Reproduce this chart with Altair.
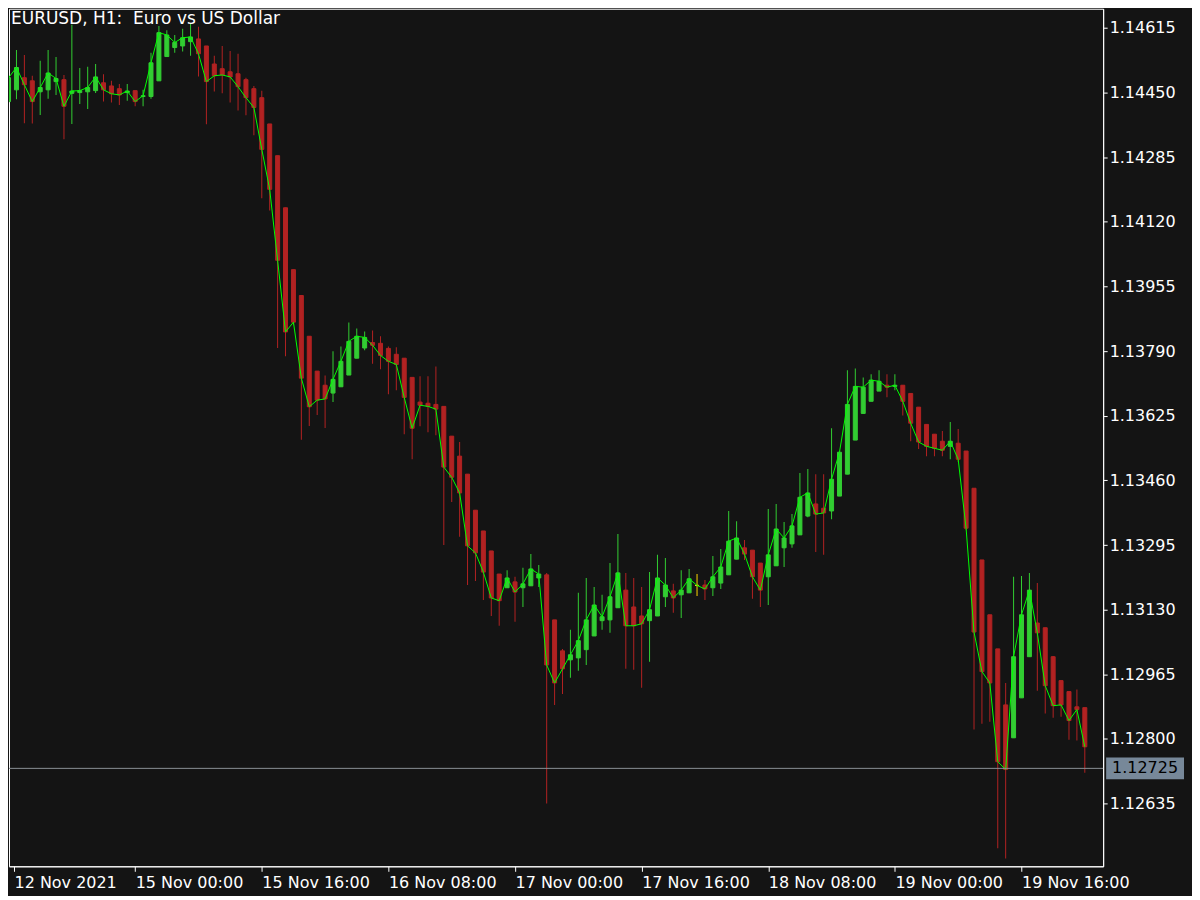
import altair as alt
import pandas as pd

opens = [1.14427, 1.14457, 1.14488, 1.14480, 1.14452, 1.14457, 1.14478, 1.14483, 1.14448, 1.14450,
         1.14452, 1.14455, 1.14475, 1.14467, 1.14460, 1.14450, 1.14455, 1.14440, 1.14440, 1.14480,
         1.14542, 1.14565, 1.14569, 1.14580, 1.14587, 1.14569, 1.14523, 1.14511, 1.14503, 1.14498,
         1.14483, 1.14460, 1.14437, 1.14370, 1.14289, 1.14156, 1.13998, 1.13932, 1.13828, 1.13739,
         1.13703, 1.13683, 1.13699, 1.13729, 1.13772, 1.13798, 1.13812, 1.13810, 1.13797, 1.13782,
         1.13772, 1.13723, 1.13660, 1.13657, 1.13654, 1.13649, 1.13573, 1.13522, 1.13476, 1.13384,
         1.13331, 1.13280, 1.13221, 1.13186, 1.13201, 1.13186, 1.13191, 1.13211, 1.13219, 1.13104,
         1.13025, 1.13002, 1.13007, 1.13028, 1.13063, 1.13102, 1.13104, 1.13135, 1.13180, 1.13137,
         1.13114, 1.13102, 1.13114, 1.13163, 1.13178, 1.13168, 1.13173, 1.13192, 1.13193, 1.13186,
         1.13198, 1.13219, 1.13259, 1.13288, 1.13282, 1.13249, 1.13214, 1.13242, 1.13288, 1.13298,
         1.13321, 1.13369, 1.13400, 1.13389, 1.13382, 1.13420, 1.13476, 1.13563, 1.13631, 1.13662,
         1.13688, 1.13703, 1.13700, 1.13703, 1.13682, 1.13647, 1.13603, 1.13578, 1.13560, 1.13547,
         1.13555, 1.13535, 1.13440, 1.13257, 1.13117, 1.13030, 1.12887, 1.12803, 1.12905, 1.13010,
         1.13096, 1.13084, 1.13010, 1.12949, 1.12921, 1.12882, 1.12880]

highs = [1.14501, 1.14559, 1.14546, 1.14493, 1.14531, 1.14559, 1.14541, 1.14495, 1.14623, 1.14513,
         1.14516, 1.14523, 1.14497, 1.14480, 1.14472, 1.14472, 1.14455, 1.14457, 1.14552, 1.14620,
         1.14609, 1.14597, 1.14613, 1.14627, 1.14618, 1.14569, 1.14544, 1.14569, 1.14556, 1.14549,
         1.14488, 1.14467, 1.14455, 1.14370, 1.14289, 1.14156, 1.13998, 1.13932, 1.13828, 1.13739,
         1.13728, 1.13790, 1.13802, 1.13863, 1.13848, 1.13840, 1.13843, 1.13828, 1.13802, 1.13800,
         1.13772, 1.13723, 1.13726, 1.13726, 1.13751, 1.13649, 1.13573, 1.13558, 1.13476, 1.13384,
         1.13331, 1.13280, 1.13221, 1.13231, 1.13214, 1.13237, 1.13272, 1.13244, 1.13224, 1.13104,
         1.13030, 1.13079, 1.13173, 1.13211, 1.13188, 1.13168, 1.13249, 1.13323, 1.13224, 1.13211,
         1.13188, 1.13226, 1.13270, 1.13262, 1.13196, 1.13231, 1.13234, 1.13221, 1.13206, 1.13267,
         1.13285, 1.13382, 1.13356, 1.13308, 1.13282, 1.13249, 1.13387, 1.13400, 1.13354, 1.13374,
         1.13479, 1.13489, 1.13476, 1.13476, 1.13593, 1.13532, 1.13741, 1.13746, 1.13723, 1.13731,
         1.13741, 1.13731, 1.13731, 1.13703, 1.13682, 1.13647, 1.13603, 1.13578, 1.13586, 1.13609,
         1.13591, 1.13535, 1.13440, 1.13257, 1.13117, 1.13030, 1.12943, 1.13214, 1.13216, 1.13224,
         1.13198, 1.13084, 1.13012, 1.12949, 1.12921, 1.12926, 1.12880]

lows = [1.14423, 1.14433, 1.14372, 1.14371, 1.14393, 1.14434, 1.14444, 1.14331, 1.14370, 1.14421,
        1.14408, 1.14449, 1.14427, 1.14425, 1.14418, 1.14429, 1.14415, 1.14415, 1.14434, 1.14480,
        1.14541, 1.14552, 1.14555, 1.14544, 1.14491, 1.14369, 1.14453, 1.14448, 1.14425, 1.14404,
        1.14392, 1.14341, 1.14180, 1.14149, 1.13798, 1.13777, 1.13856, 1.13564, 1.13599, 1.13627,
        1.13594, 1.13660, 1.13699, 1.13729, 1.13772, 1.13792, 1.13758, 1.13744, 1.13680, 1.13690,
        1.13578, 1.13514, 1.13598, 1.13583, 1.13575, 1.13295, 1.13405, 1.13316, 1.13193, 1.13203,
        1.13155, 1.13114, 1.13089, 1.13186, 1.13099, 1.13137, 1.13191, 1.13188, 1.12635, 1.12887,
        1.12915, 1.12956, 1.12974, 1.12989, 1.13063, 1.13079, 1.13071, 1.13135, 1.12979, 1.12977,
        1.12931, 1.12997, 1.13114, 1.13137, 1.13122, 1.13109, 1.13173, 1.13165, 1.13155, 1.13165,
        1.13183, 1.13219, 1.13259, 1.13257, 1.13158, 1.13137, 1.13142, 1.13242, 1.13239, 1.13288,
        1.13321, 1.13366, 1.13277, 1.13270, 1.13361, 1.13420, 1.13476, 1.13563, 1.13631, 1.13662,
        1.13688, 1.13672, 1.13690, 1.13626, 1.13560, 1.13540, 1.13522, 1.13522, 1.13522, 1.13514,
        1.13507, 1.13333, 1.12824, 1.12839, 1.12844, 1.12521, 1.12495, 1.12803, 1.12905, 1.13010,
        1.12923, 1.12865, 1.12854, 1.12857, 1.12798, 1.12796, 1.12714]

closes = [1.14488, 1.14514, 1.14470, 1.14427, 1.14463, 1.14500, 1.14486, 1.14415, 1.14454, 1.14455,
          1.14463, 1.14490, 1.14457, 1.14447, 1.14444, 1.14454, 1.14427, 1.14442, 1.14526, 1.14603,
          1.14597, 1.14578, 1.14590, 1.14592, 1.14549, 1.14478, 1.14493, 1.14495, 1.14490, 1.14465,
          1.14437, 1.14412, 1.14305, 1.14203, 1.14022, 1.13839, 1.13864, 1.13721, 1.13648, 1.13665,
          1.13668, 1.13718, 1.13764, 1.13815, 1.13828, 1.13825, 1.13805, 1.13779, 1.13764, 1.13756,
          1.13672, 1.13593, 1.13652, 1.13649, 1.13642, 1.13494, 1.13468, 1.13428, 1.13293, 1.13275,
          1.13226, 1.13160, 1.13153, 1.13211, 1.13175, 1.13196, 1.13234, 1.13221, 1.12989, 1.12943,
          1.12979, 1.13015, 1.13051, 1.13104, 1.13142, 1.13112, 1.13163, 1.13224, 1.13089, 1.13089,
          1.13094, 1.13130, 1.13211, 1.13193, 1.13160, 1.13180, 1.13209, 1.13192, 1.13183, 1.13214,
          1.13239, 1.13305, 1.13313, 1.13272, 1.13214, 1.13180, 1.13270, 1.13336, 1.13313, 1.13344,
          1.13417, 1.13428, 1.13374, 1.13377, 1.13463, 1.13532, 1.13654, 1.13700, 1.13698, 1.13716,
          1.13713, 1.13698, 1.13703, 1.13662, 1.13606, 1.13558, 1.13547, 1.13542, 1.13537, 1.13560,
          1.13514, 1.13338, 1.13073, 1.12972, 1.12943, 1.12742, 1.12722, 1.13010, 1.13117, 1.13180,
          1.13071, 1.12936, 1.12885, 1.12887, 1.12847, 1.12875, 1.12780]

time_ticks = [0.6875, 16, 32, 48, 64, 80, 96, 112, 128]
time_labels = ["12 Nov 2021", "15 Nov 00:00", "15 Nov 16:00", "16 Nov 08:00", "17 Nov 00:00",
               "17 Nov 16:00", "18 Nov 08:00", "19 Nov 00:00", "19 Nov 16:00"]
price_ticks = [1.12635, 1.12800, 1.12965, 1.13130, 1.13295, 1.13460, 1.13625,
               1.13790, 1.13955, 1.14120, 1.14285, 1.14450, 1.14615]
chart_title = "EURUSD, H1:\u00a0 Euro vs US Dollar"
last_price = 1.12725

FONT = "DejaVu Sans"
n = len(opens)
dirs = ["up" if c > o else ("down" if c < o else "doji") for o, c in zip(opens, closes)]
df = pd.DataFrame({"idx": list(range(n)), "open": opens, "high": highs, "low": lows,
                   "close": closes, "dir": dirs})

cscale = alt.Scale(domain=["up", "down", "doji"], range=["#32cd32", "#b22222", "#ffd700"])
xscale = alt.Scale(domain=[0.6875, 137.6875], nice=False, zero=False)
yscale = alt.Scale(domain=[1.12475, 1.14664], nice=False, zero=False)

label_expr = "''"
for t, lab in reversed(list(zip(time_ticks, time_labels))):
    label_expr = f"abs(datum.value - {t}) < 0.5 ? '{lab}' : ({label_expr})"

x_axis = alt.Axis(values=time_ticks, labelExpr=label_expr, orient="bottom", tickSize=5,
                  labelPadding=3, labelAlign="left", labelOverlap=False, labelFlush=False,
                  title=None)
y_axis = alt.Axis(orient="right", values=price_ticks, format=".5f", tickSize=4,
                  labelPadding=2, title=None, labelOverlap=False, labelFlush=False)

base = alt.Chart(df)
X = alt.X("idx:Q", scale=xscale, axis=x_axis)

wicks = base.mark_bar(width=1, clip=True).encode(
    x=X,
    y=alt.Y("low:Q", scale=yscale, axis=y_axis),
    y2="high:Q",
    color=alt.Color("dir:N", scale=cscale, legend=None),
)

bodies = base.mark_bar(width=4, strokeWidth=1, clip=True).encode(
    x=X,
    y=alt.Y("open:Q", scale=yscale, axis=y_axis),
    y2="close:Q",
    color=alt.Color("dir:N", scale=cscale, legend=None),
    stroke=alt.Stroke("dir:N", scale=cscale, legend=None),
)

close_line = base.mark_line(color="#00ff00", strokeWidth=1, clip=True).encode(
    x=X,
    y=alt.Y("close:Q", scale=yscale, axis=y_axis),
)

pdf = pd.DataFrame({"p": [last_price], "lab": [f"{last_price:.5f}"]})
price_rule = alt.Chart(pdf).mark_rule(color="#8a9096", strokeWidth=1).encode(
    y=alt.Y("p:Q", scale=yscale, axis=y_axis)
)
price_box = alt.Chart(pdf).mark_point(
    shape="M-1,-0.28L1,-0.28L1,0.28L-1,0.28Z", size=6084, filled=True,
    color="#778899", opacity=1, clip=False
).encode(y=alt.Y("p:Q", scale=yscale, axis=y_axis), x=alt.value(1138))
price_text = alt.Chart(pdf).mark_text(
    color="#000000", font=FONT, fontSize=16, align="center", baseline="middle", clip=False
).encode(y=alt.Y("p:Q", scale=yscale, axis=y_axis), x=alt.value(1138), text="lab:N")

title_text = alt.Chart(pd.DataFrame({"t": [chart_title]})).mark_text(
    align="left", baseline="alphabetic", color="white", font=FONT, fontSize=17
).encode(x=alt.value(2), y=alt.value(15), text="t:N")

chart = alt.layer(
    wicks, bodies, close_line, price_rule, price_box, price_text, title_text
).properties(
    width=1096, height=859,
    padding={"left": 0, "top": 0, "right": 8, "bottom": 5},
    background="#141414",
).configure_view(
    stroke="white", strokeWidth=1
).configure_axis(
    labelFont=FONT, labelFontSize=16, labelColor="white",
    domainColor="white", tickColor="white", grid=False, domainWidth=1, tickWidth=1
)

chart.save("out.html", embed_options={"renderer": "svg", "actions": False})
